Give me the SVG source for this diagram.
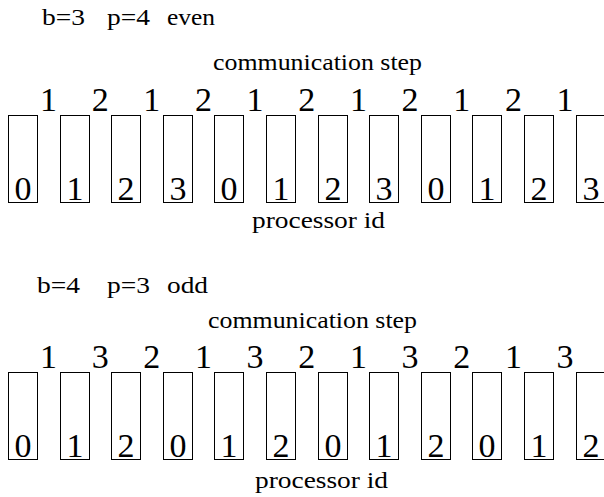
<svg xmlns="http://www.w3.org/2000/svg" width="604" height="497" viewBox="0 0 604 497">
<rect width="604" height="497" fill="#fff"/>
<g id="labels" fill="#000">
<text font-family="Liberation Serif, serif" font-size="24" x="42" y="25" textLength="43" lengthAdjust="spacingAndGlyphs">b=3</text>
<text font-family="Liberation Serif, serif" font-size="24" x="107" y="25" textLength="43" lengthAdjust="spacingAndGlyphs">p=4</text>
<text font-family="Liberation Serif, serif" font-size="24" x="167" y="25" textLength="48" lengthAdjust="spacingAndGlyphs">even</text>
<text font-family="Liberation Serif, serif" font-size="24" x="213" y="70" textLength="209" lengthAdjust="spacingAndGlyphs">communication step</text>
<text font-family="Liberation Serif, serif" font-size="24" x="252" y="228" textLength="133" lengthAdjust="spacingAndGlyphs">processor id</text>
<text font-family="Liberation Serif, serif" font-size="24" x="37" y="293" textLength="43" lengthAdjust="spacingAndGlyphs">b=4</text>
<text font-family="Liberation Serif, serif" font-size="24" x="107" y="293" textLength="43" lengthAdjust="spacingAndGlyphs">p=3</text>
<text font-family="Liberation Serif, serif" font-size="24" x="167" y="293" textLength="41" lengthAdjust="spacingAndGlyphs">odd</text>
<text font-family="Liberation Serif, serif" font-size="24" x="208" y="328" textLength="209" lengthAdjust="spacingAndGlyphs">communication step</text>
<text font-family="Liberation Serif, serif" font-size="24" x="255" y="488" textLength="133" lengthAdjust="spacingAndGlyphs">processor id</text>
</g>
<g id="steps-top" fill="#000">
<text font-family="Liberation Serif, serif" font-size="34" text-anchor="middle" x="48.5" y="111">1</text>
<text font-family="Liberation Serif, serif" font-size="34" text-anchor="middle" x="100.2" y="111">2</text>
<text font-family="Liberation Serif, serif" font-size="34" text-anchor="middle" x="151.8" y="111">1</text>
<text font-family="Liberation Serif, serif" font-size="34" text-anchor="middle" x="203.5" y="111">2</text>
<text font-family="Liberation Serif, serif" font-size="34" text-anchor="middle" x="255.1" y="111">1</text>
<text font-family="Liberation Serif, serif" font-size="34" text-anchor="middle" x="306.8" y="111">2</text>
<text font-family="Liberation Serif, serif" font-size="34" text-anchor="middle" x="358.4" y="111">1</text>
<text font-family="Liberation Serif, serif" font-size="34" text-anchor="middle" x="410.1" y="111">2</text>
<text font-family="Liberation Serif, serif" font-size="34" text-anchor="middle" x="461.7" y="111">1</text>
<text font-family="Liberation Serif, serif" font-size="34" text-anchor="middle" x="513.4" y="111">2</text>
<text font-family="Liberation Serif, serif" font-size="34" text-anchor="middle" x="565" y="111">1</text>
</g>
<g id="top-procs">
<g id="t0"><rect x="8.5" y="115.5" width="29" height="87" fill="#fff" stroke="#000"/><text font-family="Liberation Serif, serif" font-size="34" text-anchor="middle" x="23" y="200">0</text></g>
<g id="t1"><rect x="60.5" y="115.5" width="29" height="87" fill="#fff" stroke="#000"/><text font-family="Liberation Serif, serif" font-size="34" text-anchor="middle" x="75" y="200">1</text></g>
<g id="t2"><rect x="111.5" y="115.5" width="29" height="87" fill="#fff" stroke="#000"/><text font-family="Liberation Serif, serif" font-size="34" text-anchor="middle" x="126" y="200">2</text></g>
<g id="t3"><rect x="163.5" y="115.5" width="29" height="87" fill="#fff" stroke="#000"/><text font-family="Liberation Serif, serif" font-size="34" text-anchor="middle" x="178" y="200">3</text></g>
<g id="t4"><rect x="214.5" y="115.5" width="29" height="87" fill="#fff" stroke="#000"/><text font-family="Liberation Serif, serif" font-size="34" text-anchor="middle" x="229" y="200">0</text></g>
<g id="t5"><rect x="266.5" y="115.5" width="29" height="87" fill="#fff" stroke="#000"/><text font-family="Liberation Serif, serif" font-size="34" text-anchor="middle" x="281" y="200">1</text></g>
<g id="t6"><rect x="318.5" y="115.5" width="29" height="87" fill="#fff" stroke="#000"/><text font-family="Liberation Serif, serif" font-size="34" text-anchor="middle" x="333" y="200">2</text></g>
<g id="t7"><rect x="369.5" y="115.5" width="29" height="87" fill="#fff" stroke="#000"/><text font-family="Liberation Serif, serif" font-size="34" text-anchor="middle" x="384" y="200">3</text></g>
<g id="t8"><rect x="421.5" y="115.5" width="29" height="87" fill="#fff" stroke="#000"/><text font-family="Liberation Serif, serif" font-size="34" text-anchor="middle" x="436" y="200">0</text></g>
<g id="t9"><rect x="472.5" y="115.5" width="29" height="87" fill="#fff" stroke="#000"/><text font-family="Liberation Serif, serif" font-size="34" text-anchor="middle" x="487" y="200">1</text></g>
<g id="t10"><rect x="524.5" y="115.5" width="29" height="87" fill="#fff" stroke="#000"/><text font-family="Liberation Serif, serif" font-size="34" text-anchor="middle" x="539" y="200">2</text></g>
<g id="t11"><rect x="576.5" y="115.5" width="29" height="87" fill="#fff" stroke="#000"/><text font-family="Liberation Serif, serif" font-size="34" text-anchor="middle" x="591" y="200">3</text></g>
</g>
<g id="steps-bottom" fill="#000">
<text font-family="Liberation Serif, serif" font-size="34" text-anchor="middle" x="48.5" y="368">1</text>
<text font-family="Liberation Serif, serif" font-size="34" text-anchor="middle" x="100.2" y="368">3</text>
<text font-family="Liberation Serif, serif" font-size="34" text-anchor="middle" x="151.8" y="368">2</text>
<text font-family="Liberation Serif, serif" font-size="34" text-anchor="middle" x="203.5" y="368">1</text>
<text font-family="Liberation Serif, serif" font-size="34" text-anchor="middle" x="255.1" y="368">3</text>
<text font-family="Liberation Serif, serif" font-size="34" text-anchor="middle" x="306.8" y="368">2</text>
<text font-family="Liberation Serif, serif" font-size="34" text-anchor="middle" x="358.4" y="368">1</text>
<text font-family="Liberation Serif, serif" font-size="34" text-anchor="middle" x="410.1" y="368">3</text>
<text font-family="Liberation Serif, serif" font-size="34" text-anchor="middle" x="461.7" y="368">2</text>
<text font-family="Liberation Serif, serif" font-size="34" text-anchor="middle" x="513.4" y="368">1</text>
<text font-family="Liberation Serif, serif" font-size="34" text-anchor="middle" x="565" y="368">3</text>
</g>
<g id="bottom-procs">
<g id="b0"><rect x="8.5" y="372.5" width="29" height="87" fill="#fff" stroke="#000"/><text font-family="Liberation Serif, serif" font-size="34" text-anchor="middle" x="23" y="457">0</text></g>
<g id="b1"><rect x="60.5" y="372.5" width="29" height="87" fill="#fff" stroke="#000"/><text font-family="Liberation Serif, serif" font-size="34" text-anchor="middle" x="75" y="457">1</text></g>
<g id="b2"><rect x="111.5" y="372.5" width="29" height="87" fill="#fff" stroke="#000"/><text font-family="Liberation Serif, serif" font-size="34" text-anchor="middle" x="126" y="457">2</text></g>
<g id="b3"><rect x="163.5" y="372.5" width="29" height="87" fill="#fff" stroke="#000"/><text font-family="Liberation Serif, serif" font-size="34" text-anchor="middle" x="178" y="457">0</text></g>
<g id="b4"><rect x="214.5" y="372.5" width="29" height="87" fill="#fff" stroke="#000"/><text font-family="Liberation Serif, serif" font-size="34" text-anchor="middle" x="229" y="457">1</text></g>
<g id="b5"><rect x="266.5" y="372.5" width="29" height="87" fill="#fff" stroke="#000"/><text font-family="Liberation Serif, serif" font-size="34" text-anchor="middle" x="281" y="457">2</text></g>
<g id="b6"><rect x="318.5" y="372.5" width="29" height="87" fill="#fff" stroke="#000"/><text font-family="Liberation Serif, serif" font-size="34" text-anchor="middle" x="333" y="457">0</text></g>
<g id="b7"><rect x="369.5" y="372.5" width="29" height="87" fill="#fff" stroke="#000"/><text font-family="Liberation Serif, serif" font-size="34" text-anchor="middle" x="384" y="457">1</text></g>
<g id="b8"><rect x="421.5" y="372.5" width="29" height="87" fill="#fff" stroke="#000"/><text font-family="Liberation Serif, serif" font-size="34" text-anchor="middle" x="436" y="457">2</text></g>
<g id="b9"><rect x="472.5" y="372.5" width="29" height="87" fill="#fff" stroke="#000"/><text font-family="Liberation Serif, serif" font-size="34" text-anchor="middle" x="487" y="457">0</text></g>
<g id="b10"><rect x="524.5" y="372.5" width="29" height="87" fill="#fff" stroke="#000"/><text font-family="Liberation Serif, serif" font-size="34" text-anchor="middle" x="539" y="457">1</text></g>
<g id="b11"><rect x="576.5" y="372.5" width="29" height="87" fill="#fff" stroke="#000"/><text font-family="Liberation Serif, serif" font-size="34" text-anchor="middle" x="591" y="457">2</text></g>
</g>
</svg>
